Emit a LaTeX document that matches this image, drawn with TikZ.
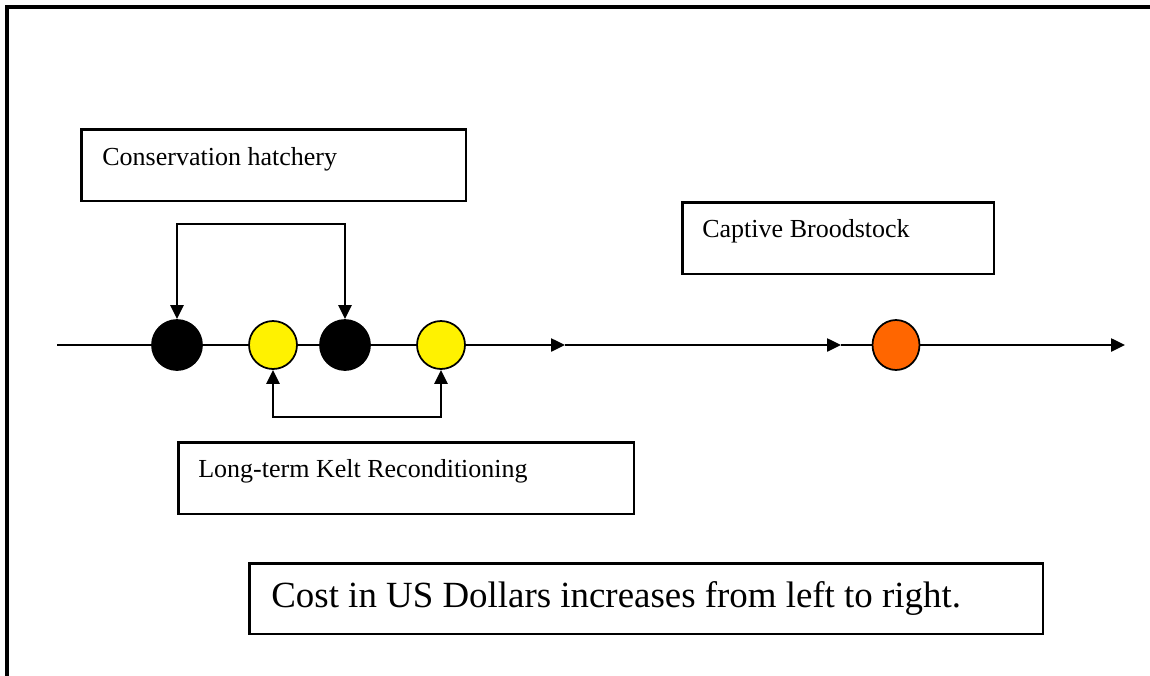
\documentclass[tikz,border=0pt]{standalone}
\usepackage{fontspec}
\setmainfont{Liberation Serif}
\usepackage{tikz}
\usetikzlibrary{arrows.meta}
\usetikzlibrary{shapes.geometric}

\definecolor{broodorange}{HTML}{FF6600}

\tikzset{
  >={Triangle[length=0.28cm,width=0.26cm]},
  stage/.style={circle, draw=black, line width=0.035cm, minimum size=0.96cm, inner sep=0pt},
  labelbox/.style={draw, line width=0.05cm, inner sep=0pt, anchor=north west, minimum height=1.44cm},
  boxtext/.style={anchor=base west, inner sep=0pt, font=\fontsize{14.8}{17}\selectfont},
  flow/.style={line width=0.05cm}
}

\begin{document}
\begin{tikzpicture}[x=0.02cm,y=-0.02cm]
        \useasboundingbox (0,0) rectangle (1150,676);
        \draw [line width=0.07cm] (7,676) -- (7,7) -- (1150,7);

        % boxes with their labels
        \node [labelbox, minimum width=7.7cm] (hatchbox) at (80,128) {};
        \node [boxtext] (hatchtext) at (102,165) {Conservation hatchery};
        \node [labelbox, minimum width=6.24cm] (broodbox) at (681,201) {};
        \node [boxtext] (broodtext) at (702,237) {Captive Broodstock};
        \node [labelbox, minimum width=9.12cm] (keltbox) at (177,441) {};
        \node [boxtext] (kelttext) at (198,477) {Long-term Kelt Reconditioning};
        \node [labelbox, minimum width=15.88cm, minimum height=1.42cm] (costbox) at (248,562) {};
        \node [boxtext, font=\fontsize{21}{25}\selectfont] (costtext) at (271,607) {Cost in US Dollars increases from left to right.};

        % stages along the line
        \coordinate (linestart) at (57,345);
        \node [stage, fill=black, minimum size=1cm] (hatch1) at (177,345) {};
        \node [stage, fill=yellow] (kelt1) at (273,345) {};
        \node [stage, fill=black, minimum size=1cm] (hatch2) at (345,345) {};
        \node [stage, fill=yellow] (kelt2) at (441,345) {};
        \coordinate (mid1) at (565,345);
        \coordinate (mid2) at (841,345);
        \node [ellipse, draw=black, line width=0.035cm, fill=broodorange, minimum width=0.94cm, minimum height=1cm, inner sep=0pt] (brood) at (896,345) {};
        \coordinate (lineend) at (1125,345);

        \draw [flow] (linestart) -- (hatch1) -- (kelt1) -- (hatch2) -- (kelt2);
        \draw [flow, ->] (kelt2) -- (mid1);
        \draw [flow, ->] (mid1) -- (mid2);
        \draw [flow] (mid2) -- (brood);
        \draw [flow, ->] (brood) -- (lineend);

        \draw [flow, <->] (hatch1.north) -- ++(0,-95) -| (hatch2.north);
        \draw [flow, <->] (kelt1.south) -- ++(0,47) -| (kelt2.south);
    \end{tikzpicture}
\end{document}
